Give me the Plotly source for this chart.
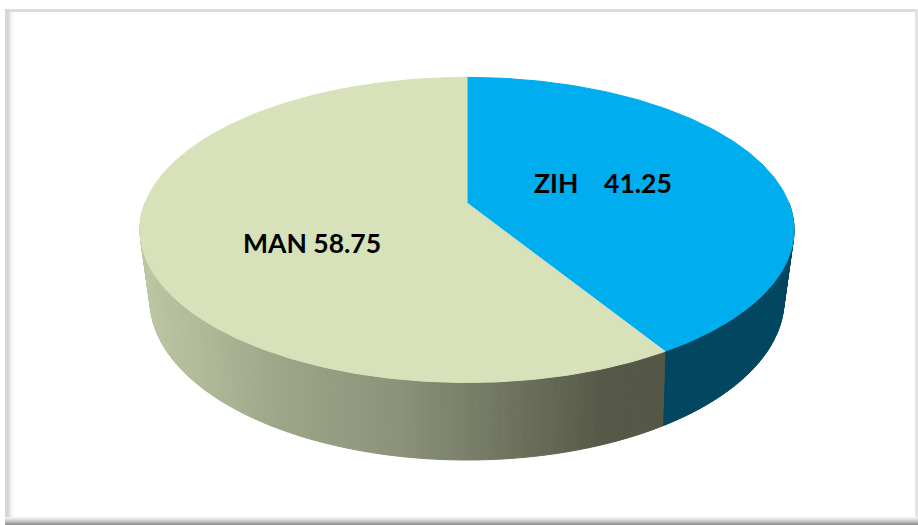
import numpy as np
import plotly.graph_objects as go

categories = ["ZIH", "MAN"]
values = [41.25, 58.75]
labels = ["ZIH\u00a0\u00a0\u00a0\u00a041.25", "MAN 58.75"]
top_colors = ["#00aeef", "#d7e2ba"]
W, H = 918, 525
CX = 467
TOP = dict(s=321.9, a=203.0, b=-112.0, c=0.1765)
BOT = dict(s=310.6, a=268.0, b=-100.0, c=0.2)


def project(theta, p):
    u, v = np.sin(theta), np.cos(theta)
    d = 1 + p["c"] * v
    return CX + p["s"] * u / d, (p["a"] + p["b"] * v) / d


def lerp_color(x, stops):
    xs = [s[0] for s in stops]
    c = [np.interp(x, xs, [s[1][i] for s in stops]) for i in range(3)]
    return "rgb(%d,%d,%d)" % tuple(round(i) for i in c)


man_stops = [(150, (188, 198, 163)), (280, (158, 166, 136)), (400, (139, 146, 121)),
             (500, (113, 118, 96)), (600, (86, 89, 71)), (670, (84, 87, 70))]
blue_wall = "#02465f"

fig = go.Figure()
shares = np.array(values) / sum(values)
edges = np.concatenate([[0], np.cumsum(shares)]) * 2 * np.pi

# side wall, drawn as thin strips so the shading runs across the slice
for i, cat in enumerate(categories):
    lo, hi = max(edges[i], np.pi * 0.5), min(edges[i + 1], np.pi * 1.5)
    n = 60 if cat == "ZIH" else 130
    steps = np.linspace(lo, hi, n + 1)
    for j in range(n):
        seg = np.array([steps[j], steps[j + 1]])
        tx, ty = project(seg, TOP)
        bx, by = project(seg, BOT)
        col = blue_wall if cat == "ZIH" else lerp_color(float(bx.mean()), man_stops)
        fig.add_trace(go.Scatter(x=np.r_[tx, bx[::-1], tx[0]], y=np.r_[ty, by[::-1], ty[0]], fill="toself",
                                 fillcolor=col, mode="lines", line=dict(width=1, color=col), hoverinfo="skip"))

# top face
ax, ay = float(CX), TOP["a"]
for i, cat in enumerate(categories):
    th = np.linspace(edges[i], edges[i + 1], 240)
    x, y = project(th, TOP)
    fig.add_trace(go.Scatter(x=np.r_[ax, x, ax], y=np.r_[ay, y, ay], fill="toself", name=cat,
                             fillcolor=top_colors[i], mode="lines",
                             line=dict(width=1, color=top_colors[i]), hoverinfo="skip"))

# frame
shapes = []


def band(x0, y0, x1, y1, col):
    shapes.append(dict(type="rect", xref="x", yref="y", x0=x0, y0=y0, x1=x1, y1=y1,
                       fillcolor=col, line_width=0, layer="below"))


band(5, 9, W - 3, 12, "#dcdcdc")
band(W - 3, 9, W, H, "#e4e4e4")
band(5, 9, 9, H - 8, "#d6d6d6")
for k, g in enumerate([228, 236, 243, 249, 252]):
    band(9 + k, 12, 10 + k, H - 8, f"rgb({g},{g},{g})")
for k, g in enumerate([240, 232, 222, 210, 195, 178, 160, 145]):
    band(5, 517 + k, W, 518 + k, f"rgb({g},{g},{g})")

fig.update_layout(
    width=W, height=H, margin=dict(l=0, r=0, t=0, b=0), showlegend=False,
    paper_bgcolor="white", plot_bgcolor="white", shapes=shapes,
    xaxis=dict(range=[0, W], visible=False, fixedrange=True),
    yaxis=dict(range=[H, 0], visible=False, fixedrange=True),
    annotations=[
        dict(x=603, y=183, text=f"<b>{labels[0]}</b>", showarrow=False, xref="x", yref="y"),
        dict(x=311.5, y=243, text=f"<b>{labels[1]}</b>", showarrow=False, xref="x", yref="y"),
    ],
    font=dict(family="Lato", size=26.5, color="black"),
)
fig.write_html("out.html", config=dict(displayModeBar=False),
               post_script="document.body.style.margin='0';document.body.style.overflow='hidden';")
